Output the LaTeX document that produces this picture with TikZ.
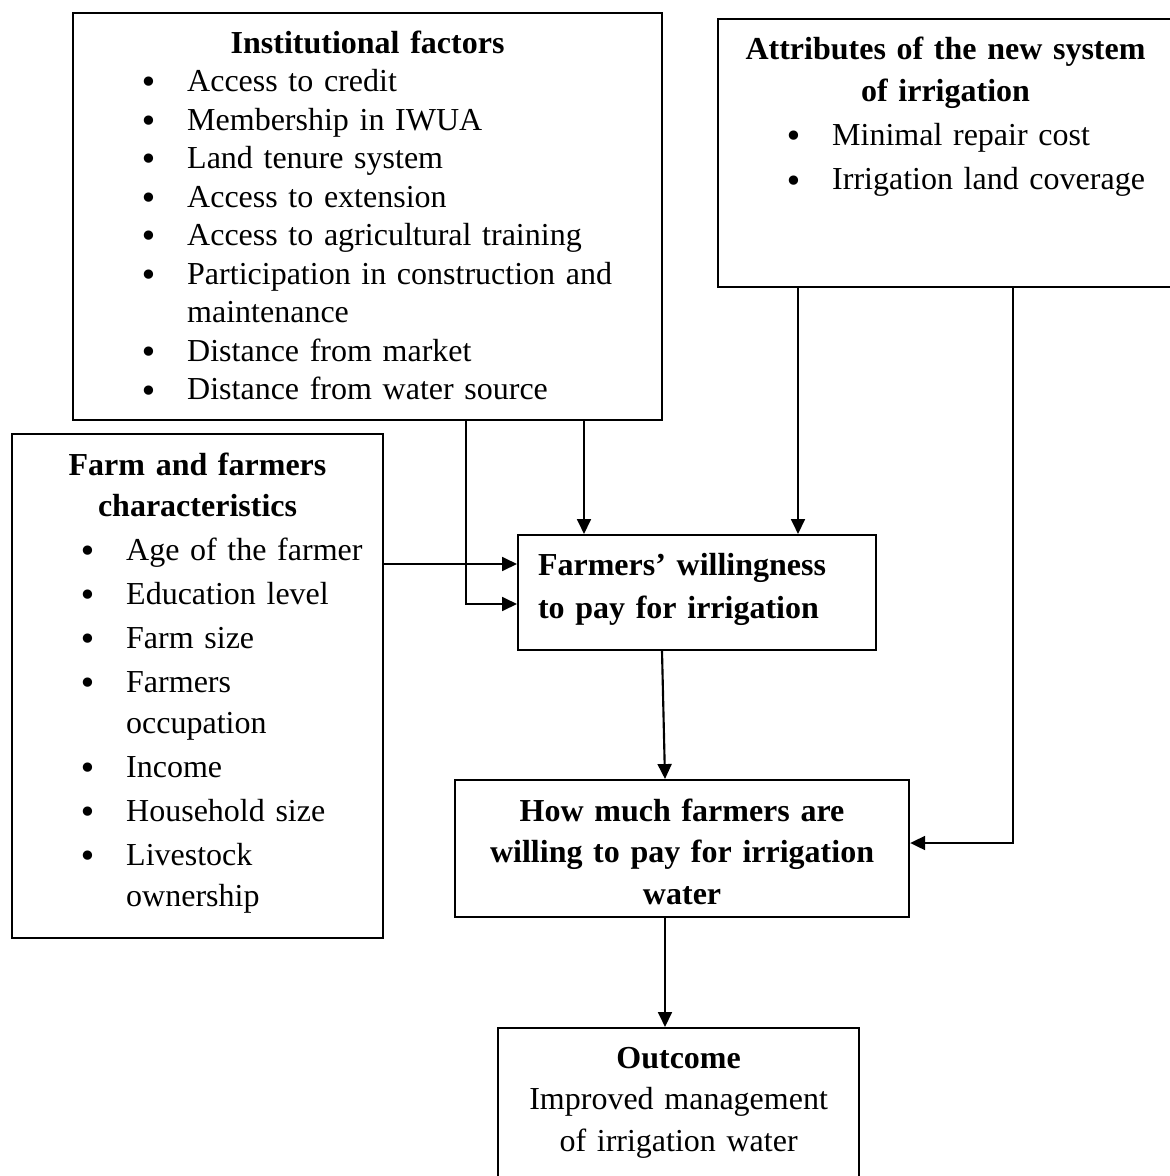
\documentclass[tikz,border=0pt]{standalone}
\usepackage{fontspec}
\setmainfont{Liberation Serif}[WordSpace=0.85]
\newfontfamily\bulfont{DejaVu Sans}
\usetikzlibrary{arrows.meta}
\newcommand{\bulmark}{\raisebox{-0.9pt}{\bulfont •}}
\newcommand{\bulitem}[1]{\par\noindent\hangindent=42.8pt\hangafter=1\makebox[42.8pt][l]{\hspace{24.8pt}\bulmark}#1\par}

\begin{document}
\begin{tikzpicture}[x=0.375pt,y=-0.375pt,
    factorbox/.style={draw,line width=0.8pt,inner sep=0pt,anchor=north west,text height=15pt},
    flow/.style={line width=0.8pt,-{Triangle[length=5.6pt,width=5.2pt]}}]
    \useasboundingbox (0,0) rectangle (1169,1176);

    \node[factorbox,text width=220.9pt,text depth=137.6pt,font=\fontsize{12}{14.44}\selectfont] (inst) at (72,12) {%
      \raggedright
      {\centering\bfseries Institutional factors\par}
      \bulitem{Access to credit}
      \bulitem{Membership in IWUA}
      \bulitem{Land tenure system}
      \bulitem{Access to extension}
      \bulitem{Access to agricultural training}
      \bulitem{Participation in construction and\newline maintenance}
      \bulitem{Distance from market}
      \bulitem{Distance from water source}};

    \node[factorbox,text width=170.6pt,text depth=85.5pt,font=\fontsize{12}{15.75}\selectfont] (attr) at (717,18) {%
      \raggedright\setlength{\parskip}{0.9pt}%
      {\centering\bfseries Attributes of the new system\break of irrigation\par}
      \bulitem{Minimal repair cost}
      \bulitem{Irrigation land coverage}};

    \node[factorbox,text width=139.1pt,text height=15.4pt,text depth=173.6pt,font=\fontsize{12}{15.4}\selectfont] (farm) at (11,433) {%
      \raggedright\setlength{\parskip}{1.1pt}%
      {\centering\bfseries Farm and farmers\break characteristics\par}
      \bulitem{Age of the farmer}
      \bulitem{Education level}
      \bulitem{Farm size}
      \bulitem{Farmers\newline occupation}
      \bulitem{Income}
      \bulitem{Household size}
      \bulitem{Livestock\newline ownership}};

    \node[factorbox,text width=134.25pt,text depth=28.1pt,font=\fontsize{12}{16.1}\selectfont\bfseries] (wtp) at (517,534) {%
      \raggedright\leftskip=7.5pt Farmers’ willingness\par to pay for irrigation\par};

    \node[factorbox,text width=170.25pt,text height=15.4pt,text depth=36pt,font=\fontsize{12}{15.6}\selectfont\bfseries] (howmuch) at (454,779) {%
      \centering How much farmers are\par willing to pay for irrigation\par water\par};

    \node[factorbox,text width=135.4pt,text depth=49.9pt,font=\fontsize{12}{15.6}\selectfont] (outcome) at (497,1027) {%
      \centering\textbf{Outcome}\par Improved management\par of irrigation water\par};

    % connector positions
    \coordinate (xa) at (466,0);
    \coordinate (xb) at (584,0);
    \coordinate (xc) at (798,0);
    \coordinate (xd) at (1013,0);
    \coordinate (xe) at (662,0);
    \coordinate (xf) at (665,0);
    \coordinate (ya) at (0,564);
    \coordinate (yb) at (0,604);
    \coordinate (yc) at (0,843);

    \draw[flow] (xb |- inst.south) -- (xb |- wtp.north);
    \draw[flow] (xa |- inst.south) |- (wtp.west |- yb);
    \draw[flow] (farm.east |- ya) -- (wtp.west |- ya);
    \draw[flow] (xc |- attr.south) -- (xc |- wtp.north);
    \draw[flow] (xd |- attr.south) |- (howmuch.east |- yc);
    \draw[flow] (xe |- wtp.south) -- (xf |- howmuch.north);
    \draw[flow] (xf |- howmuch.south) -- (xf |- outcome.north);
  \end{tikzpicture}
\end{document}
